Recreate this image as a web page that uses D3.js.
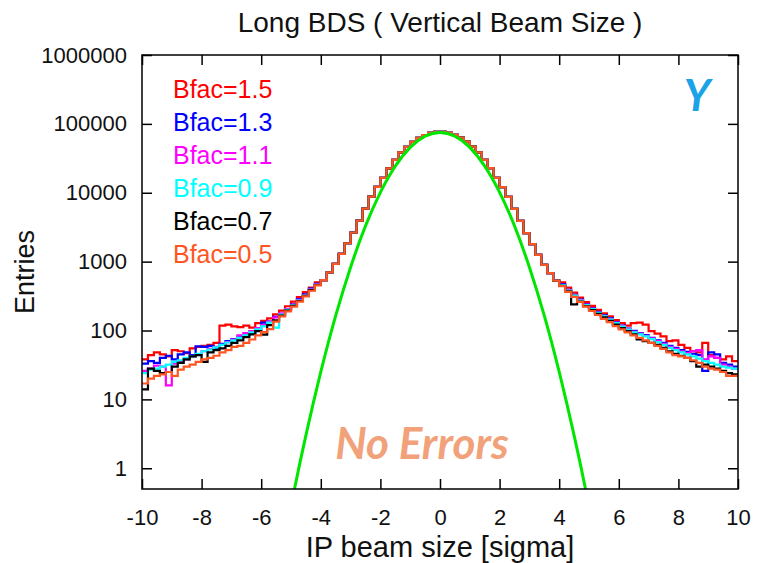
<!DOCTYPE html>
<html>
<head>
<meta charset="utf-8">
<script src="https://cdn.jsdelivr.net/npm/d3@7"></script>
<style>
  body { margin: 0; background: #fff; }
  svg text { font-family: "Liberation Sans", Arial, Helvetica, sans-serif; }
</style>
</head>
<body>
<svg id="chart" width="757" height="563"></svg>
<script>
// ---- data ----
var seriesNames = ["Bfac=1.5", "Bfac=1.3", "Bfac=1.1", "Bfac=0.9", "Bfac=0.7", "Bfac=0.5"];
var seriesColors = ["#ff0000", "#0000ff", "#ff00ff", "#00ffff", "#000000", "#ff5522"];

// core bins -3.9 .. 3.9 (all six histograms overlap here)
var coreCounts = [540, 700, 930, 1300, 1850, 2650, 3950, 5900, 8800, 12200,
                  16500, 22600, 30000, 38500, 46500, 54800, 62800, 69000, 74000, 76600,
                  76800, 74200, 69100, 63000, 55100, 46900, 38700, 30100, 22800, 16400,
                  12100, 8700, 5850, 3900, 2600, 1800, 1250, 900, 680, 530];

// left tails, bins -9.9 .. -4.1
var leftRed     = [38, 44, 48, 45, 42, 52, 50, 47, 55, 58, 60, 62, 66, 118, 122, 115, 112, 118, 110, 128, 138, 150, 172, 195, 225, 262, 305, 360, 420, 500];
var leftBlue    = [33, 36, 34, 40, 43, 38, 45, 48, 44, 59, 58, 60, 56, 64, 70, 75, 80, 85, 92, 100, 130, 135, 158, 172, 205, 240, 285, 335, 405, 475];
var leftMagenta = [26, 28, 31, 30, 16, 33, 36, 38, 42, 45, 50, 54, 58, 62, 68, 74, 85, 92, 98, 108, 120, 135, 155, 178, 205, 238, 278, 328, 395, 468];
var leftCyan    = [24, 27, 28, 30, 32, 35, 37, 40, 42, 46, 50, 53, 57, 62, 67, 72, 78, 85, 94, 104, 115, 130, 110, 170, 200, 232, 272, 322, 390, 462];
var leftBlack   = [14, 28, 26, 24, 25, 30, 34, 38, 42, 44, 35, 48, 52, 55, 60, 66, 72, 80, 88, 98, 87, 120, 140, 165, 195, 228, 268, 318, 385, 458];
var leftOrange  = [17, 20, 22, 23, 25, 22, 27, 30, 32, 35, 38, 40, 43, 48, 52, 58, 60, 66, 74, 85, 95, 105, 135, 160, 190, 222, 262, 312, 378, 452];

// right tails, bins 4.1 .. 9.9
var rightRed     = [500, 420, 355, 300, 258, 228, 200, 178, 160, 142, 128, 118, 128, 130, 122, 98, 90, 82, 70, 72, 62, 56, 50, 48, 66, 44, 40, 38, 42, 36];
var rightBlue    = [470, 390, 330, 282, 242, 212, 186, 166, 150, 133, 118, 107, 99, 92, 86, 78, 72, 66, 60, 56, 52, 49, 46, 44, 26, 48, 45, 34, 32, 30];
var rightMagenta = [460, 385, 325, 276, 238, 208, 182, 162, 146, 130, 116, 105, 96, 90, 84, 77, 70, 64, 58, 54, 50, 47, 50, 52, 38, 42, 40, 32, 30, 28];
var rightCyan    = [455, 380, 320, 272, 234, 205, 180, 160, 144, 128, 114, 103, 94, 88, 82, 75, 68, 62, 56, 52, 48, 45, 42, 39, 36, 34, 32, 30, 29, 28];
var rightBlack   = [445, 370, 240, 262, 226, 198, 175, 155, 138, 122, 108, 98, 88, 74, 70, 66, 62, 56, 50, 46, 43, 40, 36, 30, 32, 30, 28, 26, 24, 23];
var rightOrange  = [440, 365, 308, 260, 222, 192, 168, 148, 132, 116, 104, 94, 85, 78, 72, 66, 60, 54, 48, 44, 42, 40, 37, 34, 30, 28, 27, 25, 22, 22];

// gaussian fit curve, read at 0.5 steps
var fitX = [-5.5, -5, -4.5, -4, -3.5, -3, -2.5, -2, -1.5, -1, -0.5, 0, 0.5, 1, 1.5, 2, 2.5, 3, 3.5, 4, 4.5, 5, 5.5];
var fitY = [0.02, 0.28, 3.0, 25, 164, 830, 3300, 10150, 24350, 45500, 66200, 75000, 66200, 45500, 24350, 10150, 3300, 830, 164, 25, 3.0, 0.28, 0.02];

var xTicks = [-10, -8, -6, -4, -2, 0, 2, 4, 6, 8, 10];
var yTicks = [1, 10, 100, 1000, 10000, 100000, 1000000];

var leftTails = [leftRed, leftBlue, leftMagenta, leftCyan, leftBlack, leftOrange];
var rightTails = [rightRed, rightBlue, rightMagenta, rightCyan, rightBlack, rightOrange];

// ---- layout ----
var svg = d3.select("#chart");
var plot = {left: 142, right: 738, top: 55, bottom: 489};
var xMin = -10, binWidth = 0.2;

var x = d3.scaleLinear().domain([-10, 10]).range([plot.left, plot.right]);
var y = d3.scaleLog().domain([0.5, 1000000]).range([plot.bottom, plot.top]);

svg.append("defs").append("clipPath").attr("id", "clip")
    .append("rect")
    .attr("x", plot.left).attr("y", plot.top)
    .attr("width", plot.right - plot.left).attr("height", plot.bottom - plot.top);

var plotG = svg.append("g").attr("clip-path", "url(#clip)");

// histograms as steps
var line = d3.line().x(function(d) { return x(d[0]); }).y(function(d) { return y(d[1]); });

seriesNames.forEach(function(name, s) {
    var counts = leftTails[s].concat(coreCounts, rightTails[s]);
    var pts = [];
    counts.forEach(function(c, i) {
        var lo = xMin + i * binWidth;
        pts.push([lo, c]);
        pts.push([lo + binWidth, c]);
    });
    plotG.append("path")
        .attr("d", line(pts))
        .attr("fill", "none")
        .attr("stroke", seriesColors[s])
        .attr("stroke-width", 2.2)
        .attr("stroke-linejoin", "miter");
});

// fit curve
var fitLine = d3.line()
    .x(function(d, i) { return x(fitX[i]); })
    .y(function(d) { return y(d); })
    .curve(d3.curveNatural);

plotG.append("path")
    .attr("d", fitLine(fitY))
    .attr("fill", "none")
    .attr("stroke", "#00e600")
    .attr("stroke-width", 3);

// frame
svg.append("rect")
    .attr("x", plot.left).attr("y", plot.top)
    .attr("width", plot.right - plot.left).attr("height", plot.bottom - plot.top)
    .attr("fill", "none").attr("stroke", "#000").attr("stroke-width", 1.5);

// axes with inward ticks on all four sides
var plainNum = function(d) { return String(d); };
var axB = d3.axisBottom(x).tickValues(xTicks).tickSize(-10).tickPadding(20).tickFormat(plainNum);
var axT = d3.axisTop(x).tickValues(xTicks).tickSize(-10).tickFormat("");
var axL = d3.axisLeft(y).tickValues(yTicks).tickSize(-10).tickPadding(15).tickFormat(plainNum);
var axR = d3.axisRight(y).tickValues(yTicks).tickSize(-10).tickFormat("");

function styleAxis(g) {
    g.select(".domain").remove();
    g.selectAll(".tick line").attr("stroke", "#000").attr("stroke-width", 1.5);
    g.selectAll(".tick text").attr("fill", "#111").style("font-size", "22px");
}

svg.append("g").attr("transform", "translate(0," + plot.bottom + ")").call(axB).call(styleAxis);
svg.append("g").attr("transform", "translate(0," + plot.top + ")").call(axT).call(styleAxis);
svg.append("g").attr("transform", "translate(" + plot.left + ",0)").call(axL).call(styleAxis);
svg.append("g").attr("transform", "translate(" + plot.right + ",0)").call(axR).call(styleAxis);

// titles
svg.append("text")
    .attr("x", 440).attr("y", 32)
    .attr("text-anchor", "middle")
    .style("font-size", "28px")
    .attr("fill", "#111")
    .text("Long BDS ( Vertical Beam Size )");

svg.append("text")
    .attr("x", 440).attr("y", 557)
    .attr("text-anchor", "middle")
    .style("font-size", "29px")
    .attr("fill", "#111")
    .text("IP beam size [sigma]");

svg.append("text")
    .attr("transform", "translate(34,272) rotate(-90)")
    .attr("text-anchor", "middle")
    .style("font-size", "27px")
    .attr("fill", "#111")
    .text("Entries");

// legend text
svg.selectAll(".legend")
    .data(seriesNames)
    .enter()
    .append("text")
    .attr("class", "legend")
    .attr("x", 173)
    .attr("y", function(d, i) { return 98 + i * 33; })
    .style("font-size", "25px")
    .attr("fill", function(d, i) { return seriesColors[i]; })
    .text(function(d) { return d; });

// annotations
svg.append("text")
    .attr("x", 697).attr("y", 111)
    .attr("text-anchor", "middle")
    .style("font-family", "Lato, 'Open Sans', sans-serif")
    .style("font-size", "44px")
    .style("font-weight", "bold")
    .style("font-style", "italic")
    .attr("fill", "#1aa3e8")
    .text("Y");

svg.append("text")
    .attr("x", 422).attr("y", 459)
    .attr("text-anchor", "middle")
    .style("font-family", "Lato, 'Open Sans', sans-serif")
    .style("font-size", "44px")
    .style("font-weight", "bold")
    .style("font-style", "italic")
    .attr("fill", "#f2a27a")
    .text("No Errors");
</script>
</body>
</html>
